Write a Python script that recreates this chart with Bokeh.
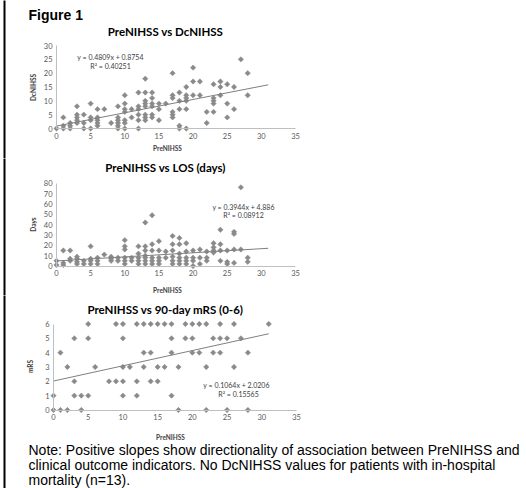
import numpy as np
from bokeh.plotting import figure
from bokeh.models import Label, Range1d, SingleIntervalTicker
from bokeh.layouts import column
from bokeh.embed import file_html
from bokeh.resources import INLINE

# ---------------- data ----------------
FIGURE_LABEL = "Figure 1"
X_LABEL = "PreNIHSS"
X_MAX = 35
X_STEP = 5
TREND_X = [0, 31]

# Chart 1: PreNIHSS vs DcNIHSS
c1_title = "PreNIHSS vs DcNIHSS"
c1_ylabel = "DcNIHSS"
c1_ymax, c1_ystep = 30, 5
c1_slope, c1_intercept, c1_r2 = 0.4809, 0.8754, "0.40251"
c1_x = [0,
        1, 1, 1,
        2, 2, 2,
        3, 3, 3, 3, 3,
        4, 4, 4,
        5, 5, 5, 5,
        6, 6, 6, 6, 6,
        7,
        8,
        9, 9, 9, 9, 9, 9,
        10, 10, 10, 10, 10, 10, 10,
        11, 11,
        12, 12, 12, 12, 12, 12,
        13, 13, 13, 13, 13, 13, 13, 13,
        14, 14, 14, 14, 14, 14,
        15, 15, 15,
        16,
        17, 17, 17, 17, 17, 17,
        18, 18, 18, 18, 18,
        19, 19, 19, 19, 19, 19,
        20, 20, 20,
        21, 21,
        22, 22,
        23, 23, 23, 23, 23,
        24, 24, 24,
        25, 25, 25,
        26, 26,
        27,
        28, 28]
c1_y = [0,
        0, 1, 4,
        0, 1, 2,
        2, 3, 4, 5, 8,
        0, 2, 5,
        0, 3, 4, 9,
        1, 2, 3, 4, 7,
        7,
        2,
        0, 1, 2, 3, 4, 8,
        0, 2, 3, 6, 7, 9, 12,
        4, 7,
        0, 3, 5, 7, 8, 13,
        3, 4, 5, 8, 9, 10, 13, 18,
        4, 5, 8, 9, 11, 13,
        3, 7, 9,
        9,
        4, 5, 6, 11, 12, 20,
        0, 1, 7, 10, 13,
        0, 7, 10, 11, 12, 15,
        12, 17, 22,
        12, 17,
        2, 6,
        6, 9, 10, 11, 16,
        12, 15, 17,
        4, 9, 16,
        7, 15,
        25,
        12, 20]

# Chart 2: PreNIHSS vs LOS (days)
c2_title = "PreNIHSS vs LOS (days)"
c2_ylabel = "Days"
c2_ymax, c2_ystep = 80, 10
c2_slope, c2_intercept, c2_r2 = 0.3944, 4.886, "0.08912"
c2_x = [0, 0,
        1, 1, 1,
        2, 2, 2,
        3, 3, 3, 3,
        4, 4,
        5, 5, 5, 5,
        6, 6, 6,
        7,
        8, 8, 8,
        9, 9,
        10, 10, 10, 10, 10, 10,
        11, 11,
        12, 12, 12, 12, 12,
        13, 13, 13, 13, 13, 13, 13,
        14, 14, 14, 14, 14, 14,
        15, 15, 15, 15, 15,
        16, 16,
        17, 17, 17, 17, 17, 17,
        18, 18, 18, 18, 18, 18,
        19, 19, 19, 19, 19,
        20, 20, 20, 20,
        21, 21, 21,
        22, 22, 22,
        23, 23, 23, 23,
        24, 24, 24, 24,
        25, 25, 25,
        26, 26, 26, 26,
        27, 27,
        28, 28]
c2_y = [1, 5,
        1, 3, 15,
        5, 7, 15,
        2, 4, 7, 9,
        2, 5,
        2, 5, 7, 19,
        2, 5, 8,
        11,
        5, 7, 9,
        5, 8,
        2, 5, 8, 16, 19, 25,
        5, 8,
        2, 5, 8, 12, 19,
        2, 5, 8, 10, 15, 19, 42,
        2, 5, 8, 15, 21, 49,
        2, 5, 8, 15, 24,
        8, 14,
        2, 5, 9, 15, 21, 29,
        2, 5, 8, 12, 21, 27,
        2, 5, 8, 14, 22,
        0, 5, 8, 15,
        2, 8, 16,
        5, 8, 14,
        13, 15, 18, 22,
        5, 15, 21, 35,
        2, 4, 15,
        3, 16, 31, 33,
        16, 76,
        4, 8]

# Chart 3: PreNIHSS vs 90-day mRS (0-6)
c3_title = "PreNIHSS vs 90-day mRS (0-6)"
c3_ylabel = "mRS"
c3_ymax, c3_ystep = 6, 1
c3_slope, c3_intercept, c3_r2 = 0.1064, 2.0206, "0.15565"
c3_x = [5, 9, 10, 12, 13, 14, 15, 16, 17, 19, 20, 21, 22, 24, 26, 31,
        3, 5, 10, 17, 19, 20, 23, 24, 25, 27,
        1, 13, 14, 17, 20, 21, 23, 24, 28,
        2, 6, 10, 11, 13, 15, 16, 18, 22, 26,
        3, 8, 9, 10, 12, 14, 15,
        0, 3, 4, 5, 10, 12, 17,
        0, 1, 2, 4, 18, 22, 25, 28]
c3_y = [6, 6, 6, 6, 6, 6, 6, 6, 6, 6, 6, 6, 6, 6, 6, 6,
        5, 5, 5, 5, 5, 5, 5, 5, 5, 5,
        4, 4, 4, 4, 4, 4, 4, 4, 4,
        3, 3, 3, 3, 3, 3, 3, 3, 3, 3,
        2, 2, 2, 2, 2, 2, 2,
        1, 1, 1, 1, 1, 1, 1,
        0, 0, 0, 0, 0, 0, 0, 0]

note_lines = [
    "Note: Positive slopes show directionality of association between PreNIHSS and",
    "clinical outcome indicators. No DcNIHSS values for patients with in-hospital",
    "mortality (n=13).",
]

# ---------------- style / layout ----------------
CHART_FONT = "Lato"
NOTE_FONT = "Liberation Sans"
MARK_COLOR = "#8a8a8a"
TREND_COLOR = "#7f7f7f"
AXIS_COLOR = "#bfbfbf"
TICK_COLOR = "#595959"
LABEL_COLOR = "#404040"
W = 526
RULE_X = 4


def build(top, h, x0, x35, y0, ytop, ymax, ystep):
    """Figure whose frame covers the whole canvas; mapping given in page pixels."""
    ly0 = y0 - top
    sx = (x35 - x0) / X_MAX
    sy = (y0 - ytop) / ymax
    xr = Range1d(-x0 / sx, (W - x0) / sx)
    yr = Range1d(-(h - ly0) / sy, ly0 / sy)
    p = figure(width=W, height=h, x_range=xr, y_range=yr, title=None,
               min_border=0, min_border_left=0, min_border_right=0,
               min_border_top=0, min_border_bottom=0,
               toolbar_location=None, output_backend="svg",
               outline_line_color=None, background_fill_color="white",
               border_fill_color="white")
    p.xgrid.visible = False
    p.ygrid.visible = False
    p.xaxis.fixed_location = 0
    p.yaxis.fixed_location = 0
    p.xaxis.bounds = (0, X_MAX)
    p.yaxis.bounds = (0, ymax)
    p.xaxis.ticker = SingleIntervalTicker(interval=X_STEP)
    p.yaxis.ticker = SingleIntervalTicker(interval=ystep)
    for ax in (p.xaxis[0], p.yaxis[0]):
        ax.axis_line_color = AXIS_COLOR
        ax.axis_line_width = 1
        ax.major_tick_line_color = None
        ax.minor_tick_line_color = None
        ax.major_tick_in = 0
        ax.major_tick_out = 0
        ax.minor_tick_in = 0
        ax.minor_tick_out = 0
        ax.major_label_text_font = CHART_FONT
        ax.major_label_text_font_size = "7.5px"
        ax.major_label_text_color = TICK_COLOR
        ax.major_label_standoff = 4
    # black page rule at the left edge, spanning the whole canvas height
    loc = (RULE_X - x0) / sx
    p.segment(x0=[loc], y0=[yr.start - 1], x1=[loc], y1=[yr.end + 1],
              line_color="#000000", line_width=2)
    m = dict(x0=x0, y0=y0, sx=sx, sy=sy)
    return p, m


def text(p, m, px, py, s, size, color=LABEL_COLOR, bold=False, align="center",
         font=CHART_FONT, angle=0.0):
    p.add_layout(Label(x=(px - m["x0"]) / m["sx"], y=(m["y0"] - py) / m["sy"],
                       text=s, text_font=font, text_font_size=f"{size}px",
                       text_color=color, text_font_style="bold" if bold else "normal",
                       text_align=align, text_baseline="middle", angle=angle))


def chart(p, m, xs, ys, slope, intercept, r2, title, ylabel,
          title_xy, ylab_xy, xlab_xy, eq_xy, r2_xy):
    p.scatter(xs, ys, marker="square", angle=np.pi / 4, size=3.8,
              fill_color=MARK_COLOR, line_color=MARK_COLOR, line_width=0.5)
    ty = [slope * t + intercept for t in TREND_X]
    p.line(TREND_X, ty, line_color=TREND_COLOR, line_width=1)
    text(p, m, *title_xy, title, 11.5, color="#000000", bold=True)
    text(p, m, *ylab_xy, ylabel, 6.5, bold=True, angle=np.pi / 2)
    text(p, m, *xlab_xy, X_LABEL, 6.5, bold=True)
    text(p, m, *eq_xy, f"y = {slope}x + {intercept}", 7)
    text(p, m, *r2_xy, f"R\u00b2 = {r2}", 7)


# figure 1
p1, m1 = build(0, 158, 56, 295, 128, 45, c1_ymax, c1_ystep)
chart(p1, m1, c1_x, c1_y, c1_slope, c1_intercept, c1_r2, c1_title, c1_ylabel,
      (165, 31), (33, 87), (167, 148), (110, 56), (110, 65))
text(p1, m1, 28, 14, FIGURE_LABEL, 14, color="#000000", bold=True, align="left",
     font=NOTE_FONT)

# figure 2
p2, m2 = build(158, 137, 56, 295, 265.5, 182.7, c2_ymax, c2_ystep)
chart(p2, m2, c2_x, c2_y, c2_slope, c2_intercept, c2_r2, c2_title, c2_ylabel,
      (165, 167), (33, 224), (167, 290), (243, 206), (243, 214))

# figure 3
p3, m3 = build(295, 193, 53, 296, 409.5, 323.5, c3_ymax, c3_ystep)
chart(p3, m3, c3_x, c3_y, c3_slope, c3_intercept, c3_r2, c3_title, c3_ylabel,
      (165, 309), (30, 366), (170, 437), (236, 384), (238, 393))
for i, line in enumerate(note_lines):
    text(p3, m3, 28, 449 + 15 * i, line, 14, color="#000000", align="left",
         font=NOTE_FONT)

layout = column(p1, p2, p3, spacing=0)

open("out.html", "w").write(file_html(layout, INLINE))
